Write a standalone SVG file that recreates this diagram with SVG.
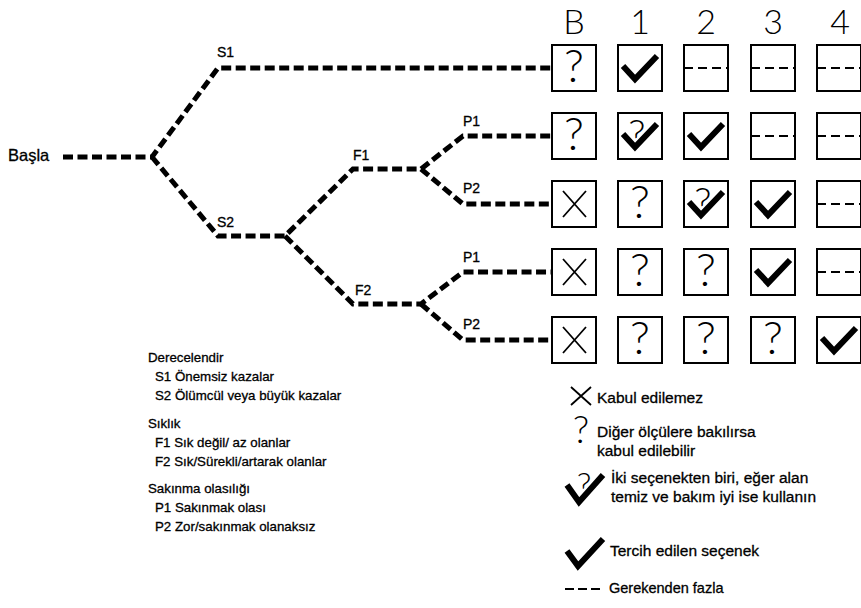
<svg xmlns="http://www.w3.org/2000/svg" xmlns:xlink="http://www.w3.org/1999/xlink" width="861" height="608" viewBox="0 0 861 608">
  <style>
    .bg { fill: #fff; }
    .cell { fill: #fff; stroke: #000; stroke-width: 2; }
    .tree { fill: none; stroke: #000; stroke-width: 5; stroke-dasharray: 10 4.5; stroke-linejoin: miter; }
    .tick { fill: none; stroke: #000; stroke-width: 6; stroke-linejoin: miter; stroke-linecap: butt; }
    .halo { fill: none; stroke: #fff; stroke-width: 10; stroke-linejoin: round; }
    .cross { fill: none; stroke: #000; stroke-width: 1.8; }
    .thin-dash { fill: none; stroke: #000; stroke-width: 2; stroke-dasharray: 9 5; }
    .hdr { font-family: Lato, "Liberation Sans", sans-serif; font-weight: 300; font-size: 34px; fill: #000; text-anchor: middle; }
    .qm { font-family: Lato, "Liberation Sans", sans-serif; font-weight: 300; font-size: 46px; fill: #000; text-anchor: middle; }
    .lbl { font-family: "Liberation Sans", Arial, sans-serif; font-size: 14px; fill: #000; stroke: #000; stroke-width: 0.3; }
    .leg { font-family: "Liberation Sans", Arial, sans-serif; font-size: 13.3px; fill: #000; stroke: #000; stroke-width: 0.3; }
    .legr { font-family: "Liberation Sans", Arial, sans-serif; font-size: 15.5px; fill: #000; stroke: #000; stroke-width: 0.3; }
  </style>
  <defs>
    <!-- cell contents, drawn in a 44 x 46 cell -->
    <g id="s-check"><polyline class="tick" points="5,21 17,34 39,11"/></g>
    <g id="s-question"><text class="qm" x="22" y="37">?</text></g>
    <g id="s-cross"><path class="cross" d="M11,10 L34,36 M34,10 L11,36"/></g>
    <g id="s-dash"><line class="thin-dash" x1="0" y1="23" x2="44" y2="23"/></g>
    <g id="s-qcheck">
      <text class="qm" x="19" y="35" style="font-size:40px">?</text>
      <polyline class="halo" points="6,21 17,34 38,12"/>
      <polyline class="tick" points="5,21 17,34 39,11"/>
    </g>
  </defs>

  <rect class="bg" x="0" y="0" width="861" height="608"/>

  <!-- column headers -->
  <g id="headers">
    <text class="hdr" x="574" y="34">B</text>
    <text class="hdr" x="640" y="34">1</text>
    <text class="hdr" x="706" y="34">2</text>
    <text class="hdr" x="773" y="34">3</text>
    <text class="hdr" x="840" y="34">4</text>
  </g>

  <!-- decision tree branches -->
  <g id="connectors">
    <path class="tree" d="M63,157 H152 L218,68 H552"/>
    <path class="tree" d="M152,157 L218,236 H285 L353,169 H421 L463,136 H552"/>
    <path class="tree" d="M421,169 L463,204 H552"/>
    <path class="tree" d="M285,236 L353,304 H421 L463,272 H552"/>
    <path class="tree" d="M421,304 L463,340 H552"/>
  </g>

  <!-- branch labels -->
  <g id="start"><text class="lbl" x="8" y="161" style="font-size:16.5px">Başla</text></g>
  <g id="n-S1"><text class="lbl" x="217" y="57">S1</text></g>
  <g id="n-S2"><text class="lbl" x="217" y="227">S2</text></g>
  <g id="n-F1"><text class="lbl" x="353" y="160">F1</text></g>
  <g id="n-F2"><text class="lbl" x="355" y="295">F2</text></g>
  <g id="n-P1a"><text class="lbl" x="463" y="126">P1</text></g>
  <g id="n-P2a"><text class="lbl" x="463" y="193">P2</text></g>
  <g id="n-P1b"><text class="lbl" x="463" y="262">P1</text></g>
  <g id="n-P2b"><text class="lbl" x="463" y="329">P2</text></g>

  <!-- row 1 -->
  <g id="r1-B" transform="translate(552,45)"><rect class="cell" width="44" height="46"/><use xlink:href="#s-question"/></g>
  <g id="r1-1" transform="translate(618,45)"><rect class="cell" width="44" height="46"/><use xlink:href="#s-check"/></g>
  <g id="r1-2" transform="translate(684,45)"><rect class="cell" width="44" height="46"/><use xlink:href="#s-dash"/></g>
  <g id="r1-3" transform="translate(751,45)"><rect class="cell" width="44" height="46"/><use xlink:href="#s-dash"/></g>
  <g id="r1-4" transform="translate(817,45)"><rect class="cell" width="44" height="46"/><use xlink:href="#s-dash"/></g>

  <!-- row 2 -->
  <g id="r2-B" transform="translate(552,113)"><rect class="cell" width="44" height="46"/><use xlink:href="#s-question"/></g>
  <g id="r2-1" transform="translate(618,113)"><rect class="cell" width="44" height="46"/><use xlink:href="#s-qcheck"/></g>
  <g id="r2-2" transform="translate(684,113)"><rect class="cell" width="44" height="46"/><use xlink:href="#s-check"/></g>
  <g id="r2-3" transform="translate(751,113)"><rect class="cell" width="44" height="46"/><use xlink:href="#s-dash"/></g>
  <g id="r2-4" transform="translate(817,113)"><rect class="cell" width="44" height="46"/><use xlink:href="#s-dash"/></g>

  <!-- row 3 -->
  <g id="r3-B" transform="translate(552,181)"><rect class="cell" width="44" height="46"/><use xlink:href="#s-cross"/></g>
  <g id="r3-1" transform="translate(618,181)"><rect class="cell" width="44" height="46"/><use xlink:href="#s-question"/></g>
  <g id="r3-2" transform="translate(684,181)"><rect class="cell" width="44" height="46"/><use xlink:href="#s-qcheck"/></g>
  <g id="r3-3" transform="translate(751,181)"><rect class="cell" width="44" height="46"/><use xlink:href="#s-check"/></g>
  <g id="r3-4" transform="translate(817,181)"><rect class="cell" width="44" height="46"/><use xlink:href="#s-dash"/></g>

  <!-- row 4 -->
  <g id="r4-B" transform="translate(552,249)"><rect class="cell" width="44" height="46"/><use xlink:href="#s-cross"/></g>
  <g id="r4-1" transform="translate(618,249)"><rect class="cell" width="44" height="46"/><use xlink:href="#s-question"/></g>
  <g id="r4-2" transform="translate(684,249)"><rect class="cell" width="44" height="46"/><use xlink:href="#s-question"/></g>
  <g id="r4-3" transform="translate(751,249)"><rect class="cell" width="44" height="46"/><use xlink:href="#s-check"/></g>
  <g id="r4-4" transform="translate(817,249)"><rect class="cell" width="44" height="46"/><use xlink:href="#s-dash"/></g>

  <!-- row 5 -->
  <g id="r5-B" transform="translate(552,317)"><rect class="cell" width="44" height="46"/><use xlink:href="#s-cross"/></g>
  <g id="r5-1" transform="translate(618,317)"><rect class="cell" width="44" height="46"/><use xlink:href="#s-question"/></g>
  <g id="r5-2" transform="translate(684,317)"><rect class="cell" width="44" height="46"/><use xlink:href="#s-question"/></g>
  <g id="r5-3" transform="translate(751,317)"><rect class="cell" width="44" height="46"/><use xlink:href="#s-question"/></g>
  <g id="r5-4" transform="translate(817,317)"><rect class="cell" width="44" height="46"/><use xlink:href="#s-check"/></g>

  <!-- parameter key -->
  <g id="key-params">
    <text class="leg" x="148" y="362">Derecelendir</text>
    <text class="leg" x="155" y="381">S1 Önemsiz kazalar</text>
    <text class="leg" x="155" y="400">S2 Ölümcül veya büyük kazalar</text>
    <text class="leg" x="148" y="428">Sıklık</text>
    <text class="leg" x="155" y="447">F1 Sık değil/ az olanlar</text>
    <text class="leg" x="155" y="466">F2 Sık/Sürekli/artarak olanlar</text>
    <text class="leg" x="148" y="493">Sakınma olasılığı</text>
    <text class="leg" x="155" y="512">P1 Sakınmak olası</text>
    <text class="leg" x="155" y="531">P2 Zor/sakınmak olanaksız</text>
  </g>

  <!-- symbol key -->
  <g id="key-symbols">
    <path class="cross" d="M571,387 L591,405 M591,387 L571,405"/>
    <text class="legr" x="597" y="403">Kabul edilemez</text>
    <text class="qm" x="581" y="443" style="font-size:38px">?</text>
    <text class="legr" x="597" y="437">Diğer ölçülere bakılırsa</text>
    <text class="legr" x="597" y="456">kabul edilebilir</text>
    <g transform="translate(564,470)">
      <text class="qm" x="20" y="27" style="font-size:34px">?</text>
      <polyline class="halo" points="4,16 15,32 38,6"/>
      <polyline class="tick" points="3,15 15,32 39,5"/>
    </g>
    <text class="legr" x="611" y="483">İki seçenekten biri, eğer alan</text>
    <text class="legr" x="611" y="502">temiz ve bakım iyi ise kullanın</text>
    <polyline class="tick" points="567,551 578,566 603,539"/>
    <text class="legr" x="610" y="556">Tercih edilen seçenek</text>
    <line class="thin-dash" x1="565" y1="589" x2="603" y2="589" style="stroke-dasharray:9 4"/>
    <text class="legr" x="609" y="593" style="font-size:14.5px">Gerekenden fazla</text>
  </g>
</svg>
